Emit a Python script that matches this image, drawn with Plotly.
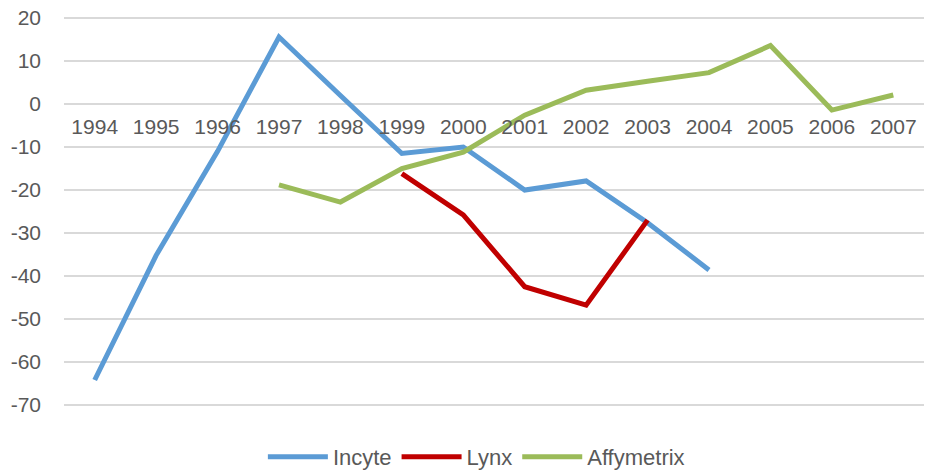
import plotly.graph_objects as go

years = ["1994", "1995", "1996", "1997", "1998", "1999", "2000",
         "2001", "2002", "2003", "2004", "2005", "2006", "2007"]
incyte = [-64.2, -35.2, -11.0, 15.6, 2.0, -11.5, -10.0, -20.0, -17.9, -27.6, -38.6,
          None, None, None]
lynx = [None, None, None, None, None, -16.2, -25.8, -42.5, -46.8, -27.0,
        None, None, None, None]
affymetrix = [None, None, None, -18.8, -22.8, -15.0, -11.2, -2.6, 3.2, 5.3, 7.3,
              13.6, -1.4, 2.1]
y_ticks = [20, 10, 0, -10, -20, -30, -40, -50, -60, -70]

series = [("Incyte", incyte, "#5b9bd5"),
          ("Lynx", lynx, "#c00000"),
          ("Affymetrix", affymetrix, "#9bbb59")]

FONT = "Liberation Sans, Arial, sans-serif"
fig = go.Figure()
for name, vals, color in series:
    fig.add_trace(go.Scatter(x=years, y=vals, name=name, mode="lines",
                             line=dict(color=color, width=5),
                             connectgaps=False))

ymin, ymax = min(y_ticks), max(y_ticks)
pad = 0.25
fig.update_layout(
    width=925, height=473,
    margin=dict(l=64, r=1, t=17, b=67),
    paper_bgcolor="white", plot_bgcolor="white",
    font=dict(family=FONT, size=21, color="#595959"),
    showlegend=True,
    legend=dict(orientation="h", xref="container", x=0.515, xanchor="center",
                yref="container", y=0.034, yanchor="middle",
                font=dict(size=22, color="#595959"), itemwidth=60,
                bgcolor="rgba(0,0,0,0)"),
    xaxis=dict(type="category", categoryorder="array", categoryarray=years,
               range=[-0.5, len(years) - 0.5], automargin=False,
               showgrid=False, zeroline=False, showline=False, ticks="",
               anchor="free", position=(0 - (ymin - pad)) / (ymax - ymin + 2 * pad),
               ticklabelstandoff=8, ticklabeloverflow="allow", fixedrange=True),
    yaxis=dict(range=[ymin - pad, ymax + pad], tickmode="array", tickvals=y_ticks,
               ticktext=[str(v) for v in y_ticks], automargin=False,
               showgrid=True, gridcolor="#d9d9d9", gridwidth=1.5,
               zeroline=False, showline=False, ticks="",
               ticklabelstandoff=22, ticklabeloverflow="allow", fixedrange=True),
)
fig.write_html("out.html", config={"displayModeBar": False},
               post_script="document.body.style.margin='0';")
